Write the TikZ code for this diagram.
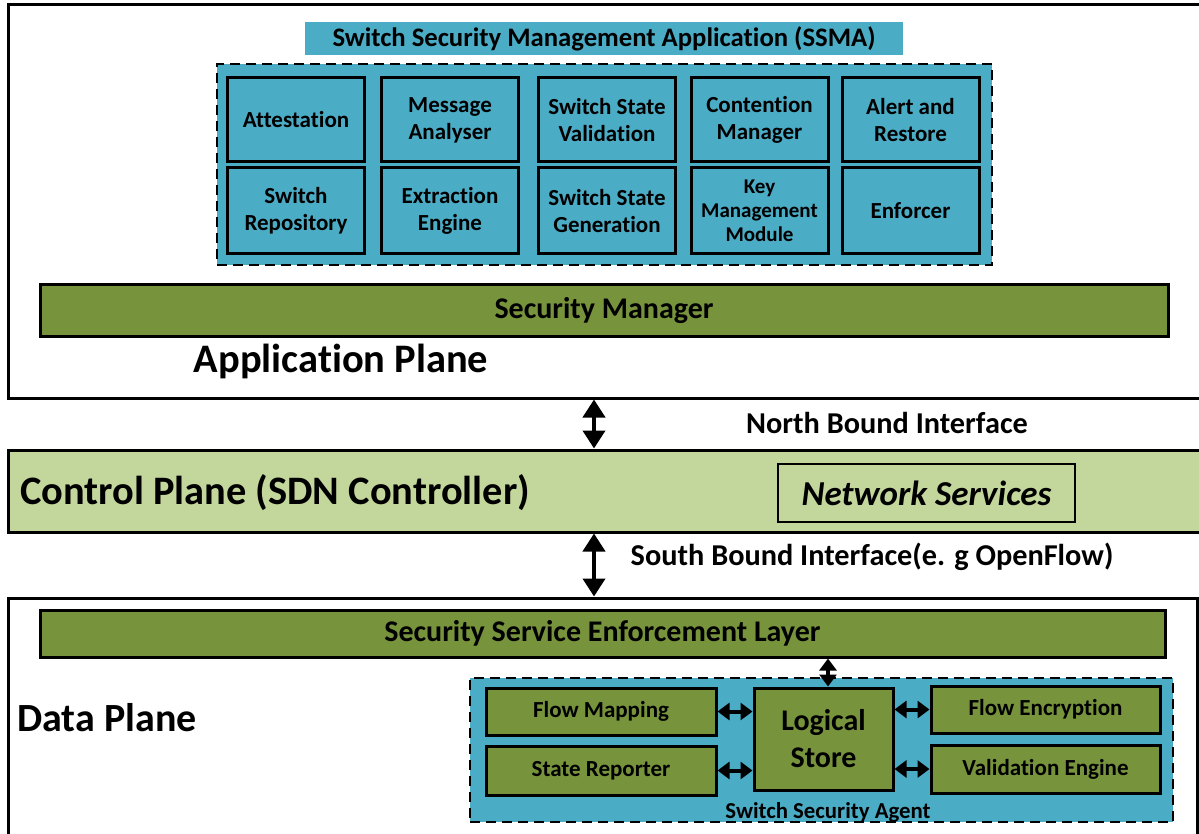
\documentclass[tikz,border=0pt]{standalone}
\usepackage{fontspec}
\setmainfont{Carlito}[RawFeature={-liga,-clig,-calt,-dlig}]
\usetikzlibrary{arrows.meta}
\definecolor{ssblue}{RGB}{75,172,198}
\definecolor{olivebar}{RGB}{119,147,60}
\definecolor{ctrlgreen}{RGB}{195,214,155}
\newcommand{\fsz}[2]{\fontsize{#1}{#2}\selectfont}
\tikzset{
  plane/.style={draw=black, line width=3pt, inner sep=0pt},
  dashbox/.style={draw=black, line width=2pt, dash pattern=on 10pt off 6pt, fill=ssblue, inner sep=0pt},
  module/.style={draw=black, line width=3pt, fill=ssblue, align=center, inner sep=0pt,
    minimum width=137pt, font=\bfseries\fsz{23}{27}},
  bar/.style={draw=black, line width=3pt, fill=olivebar, inner sep=0pt, font=\bfseries\fsz{30}{34}},
  agentbox/.style={draw=black, line width=3pt, fill=olivebar, inner sep=0pt, align=center, font=\bfseries\fsz{23}{27}},
  label/.style={inner sep=0pt, font=\bfseries},
  bigarrow/.style={line width=4pt, {Triangle[width=22pt,length=18pt]}-{Triangle[width=22pt,length=18pt]}},
  smallarrow/.style={line width=4pt, {Triangle[width=17pt,length=12pt]}-{Triangle[width=17pt,length=12pt]}},
}
\begin{document}
\begin{tikzpicture}[x=1pt,y=-1pt]
\clip (0,0) rectangle (1199,834);
\fill[white] (0,0) rectangle (1199,834);

% Application plane
\node[plane, minimum width=1202pt, minimum height=393pt] (app) at (609,201.5) {};
\node[fill=ssblue, minimum width=598pt, minimum height=33pt, inner sep=0pt, font=\bfseries\fsz{26.7}{30}] (ssma) at (604,38.5) {Switch Security Management Application (SSMA)};
\node[dashbox, minimum width=775pt, minimum height=201pt] (ssmabox) at (604.5,164.5) {};

\node[module, minimum height=84pt] (att) at (296,120) {Attestation};
\node[module, minimum height=84pt] (msg) at (450,120) {Message\\Analyser};
\node[module, minimum height=84pt] (ssv) at (607,120) {Switch State\\Validation};
\node[module, minimum height=84pt] (con) at (759.5,120) {Contention\\Manager};
\node[module, minimum height=84pt] (alr) at (910.5,120) {Alert and\\Restore};
\node[module, minimum height=86pt] (rep) at (296,211) {Switch\\Repository};
\node[module, minimum height=86pt] (ext) at (450,211) {Extraction\\Engine};
\node[module, minimum height=86pt] (ssg) at (607,211) {Switch State\\Generation};
\node[module, minimum height=86pt, font=\bfseries\fsz{21}{24}] (key) at (759.5,211) {Key\\Management\\Module};
\node[module, minimum height=86pt] (enf) at (910.5,211) {Enforcer};

\node[bar, minimum width=1128pt, minimum height=51pt] (secman) at (604,310.5) {Security Manager};
\node[label, font=\bfseries\fsz{40.5}{46}] (applbl) at (341,361) {Application Plane};

% Control plane
\node[plane, fill=ctrlgreen, minimum width=1202pt, minimum height=82pt] (ctrl) at (609,491) {};
\node[label, font=\bfseries\fsz{40.4}{46}] (ctrllbl) at (275,493) {Control Plane (SDN Controller)};
\node[draw=black, line width=2.5pt, fill=ctrlgreen, minimum width=297pt, minimum height=58pt, inner sep=0pt,
  font=\bfseries\itshape\fsz{35}{40}] (netsrv) at (926.5,493) {Network Services};

\node[label, font=\bfseries\fsz{30.3}{34}] (nbilbl) at (887,423) {North Bound Interface};
\node[label, font=\bfseries\fsz{30.3}{34}] (sbilbl) at (872,557) {South Bound Interface(e. g OpenFlow)};

% Data plane
\node[plane, minimum width=1189pt, minimum height=260pt] (data) at (602.5,728) {};
\node[bar, minimum width=1125pt, minimum height=47pt] (ssel) at (602.5,633.5) {Security Service Enforcement Layer};
\node[label, font=\bfseries\fsz{40}{46}] (datalbl) at (107,718) {Data Plane};

\node[dashbox, minimum width=703pt, minimum height=144pt] (agent) at (821.5,750) {};
\node[label, font=\bfseries\fsz{22.8}{26}] (agentlbl) at (828,812) {Switch Security Agent};
\node[agentbox, minimum width=230pt, minimum height=47pt] (fm) at (601,711.5) {Flow Mapping};
\node[agentbox, minimum width=230pt, minimum height=49pt] (sr) at (601,770.5) {State Reporter};
\node[agentbox, minimum width=139pt, minimum height=102pt, font=\bfseries\fsz{30}{37}] (ls) at (823.5,739) {Logical\\Store};
\node[agentbox, minimum width=229pt, minimum height=47pt] (fe) at (1045.5,709.5) {Flow Encryption};
\node[agentbox, minimum width=229pt, minimum height=48pt] (ve) at (1045.5,769) {Validation Engine};

% Interfaces between planes
\coordinate (ifx) at (594,0);
\draw[bigarrow] (app.south -| ifx) -- (ctrl.north -| ifx);
\draw[bigarrow] (ctrl.south -| ifx) -- (data.north -| ifx);

% Connections inside the switch security agent
\coordinate (vx) at (828,0);
\draw[smallarrow] (ssel.south -| vx) -- (ls.north -| vx);
\draw[smallarrow] (fm.east) -- (fm.east -| ls.west);
\draw[smallarrow] (sr.east) -- (sr.east -| ls.west);
\draw[smallarrow] (fe.west -| ls.east) -- (fe.west);
\draw[smallarrow] (ve.west -| ls.east) -- (ve.west);
\end{tikzpicture}
\end{document}
